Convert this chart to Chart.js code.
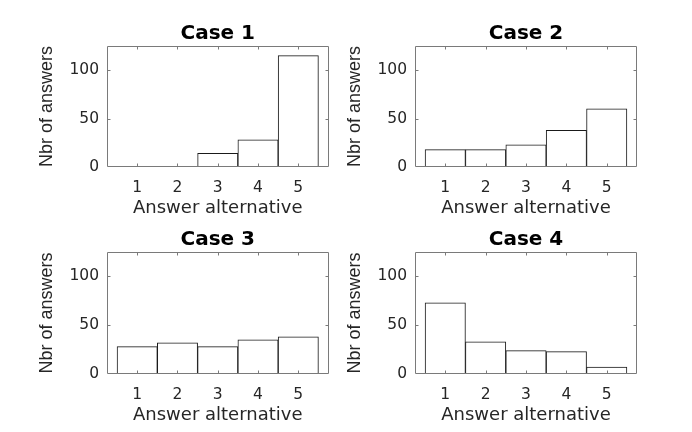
<!DOCTYPE html>
<html>
<head>
<meta charset="utf-8">
<script src="https://cdn.jsdelivr.net/npm/chart.js@4.4.1/dist/chart.umd.min.js"></script>
<style>
  body { margin: 0; background: #fff; }
  #wrap { position: relative; width: 692px; height: 432px; overflow: hidden; background: #fff; }
  canvas { position: absolute; }
</style>
</head>
<body>
<div id="wrap">
  <canvas id="case1" width="346" height="217" style="left:0px;top:0px"></canvas>
  <canvas id="case2" width="384" height="217" style="left:308px;top:0px"></canvas>
  <canvas id="case3" width="346" height="218" style="left:0px;top:206px"></canvas>
  <canvas id="case4" width="384" height="218" style="left:308px;top:206px"></canvas>
</div>
<script>
// answer alternatives on the x axis
var answerAlternatives = [1, 2, 3, 4, 5];
var yTicks = [0, 50, 100];
var yMax = 125;

var case1Answers = [0, 0, 14, 28, 115];
var case2Answers = [18, 18, 23, 38, 60];
var case3Answers = [28, 32, 28, 35, 38];
var case4Answers = [73, 33, 24, 23, 7];

var textColor = "#262626";
var boxColor = "#7a7a7a";

// box all around the axes, with ticks pointing inwards (matlab look)
var boxPlugin = {
  id: "boxPlugin",
  afterDatasetsDraw: function(chart) {
    var ctx = chart.ctx;
    var a = chart.chartArea;
    var x = chart.scales.x, y = chart.scales.y;
    var l = Math.round(a.left) + 0.5, r = Math.round(a.right) - 0.5;
    var t = Math.round(a.top) + 0.5, b = Math.round(a.bottom) - 0.5;
    ctx.save();
    ctx.strokeStyle = boxColor;
    ctx.lineWidth = 1;
    ctx.beginPath();
    ctx.rect(l, t, r - l, b - t);
    x.ticks.forEach(function(tk) {
      var px = Math.round(x.getPixelForValue(tk.value)) + 0.5;
      ctx.moveTo(px, b); ctx.lineTo(px, b - 3);
      ctx.moveTo(px, t); ctx.lineTo(px, t + 3);
    });
    y.ticks.forEach(function(tk) {
      var py = Math.round(y.getPixelForValue(tk.value)) + 0.5;
      if (py <= t + 1 || py >= b - 1) return;
      ctx.moveTo(l, py); ctx.lineTo(l + 3, py);
      ctx.moveTo(r, py); ctx.lineTo(r - 3, py);
    });
    ctx.stroke();
    ctx.restore();
  }
};

function histCase(idElement, titulo, datos, padRight) {
  var ctx = document.getElementById(idElement);
  var puntos = answerAlternatives.map(function(v, i) { return { x: v, y: datos[i] }; });

  new Chart(ctx, {
    type: "bar",
    data: {
      datasets: [{
        data: puntos,
        backgroundColor: "#ffffff",
        borderColor: "#1a1a1a",
        borderWidth: 1,
        borderSkipped: false,
        barPercentage: 1,
        categoryPercentage: 1
      }]
    },
    options: {
      responsive: false,
      animation: false,
      events: [],
      layout: { padding: { top: 0, left: 0, right: padRight, bottom: 0 } },
      plugins: {
        legend: { display: false },
        tooltip: { enabled: false },
        title: {
          display: true,
          text: titulo,
          fullSize: false,
          color: "#000",
          font: { family: "DejaVu Sans", size: 20, weight: "bold", lineHeight: 1.2 },
          padding: { top: 21.5, bottom: 0.5 }
        }
      },
      scales: {
        x: {
          type: "linear",
          min: 0.25,
          max: 5.75,
          offset: false,
          grid: { display: false, drawTicks: false, offset: false },
          border: { display: false },
          afterBuildTicks: function(scale) {
            scale.ticks = answerAlternatives.map(function(v) { return { value: v }; });
          },
          afterFit: function(scale) { scale.height = 50; },
          ticks: {
            color: textColor,
            padding: 12,
            maxRotation: 0,
            font: { family: "DejaVu Sans", size: 15.5, lineHeight: 1.2 }
          },
          title: {
            display: true,
            text: "Answer alternative",
            color: textColor,
            font: { family: "DejaVu Sans", size: 18, lineHeight: 1 },
            padding: { top: 0, bottom: 0 }
          }
        },
        y: {
          min: 0,
          max: yMax,
          grid: { display: false, drawTicks: false },
          border: { display: false },
          afterBuildTicks: function(scale) {
            scale.ticks = yTicks.map(function(v) { return { value: v }; });
          },
          afterFit: function(scale) { scale.width = 107; },
          ticks: {
            color: textColor,
            padding: 8,
            font: { family: "DejaVu Sans", size: 15.5, lineHeight: 1.2 }
          },
          title: {
            display: true,
            text: "Nbr of answers",
            color: textColor,
            font: { family: "Liberation Sans", size: 18, lineHeight: 1 },
            padding: { top: 38, bottom: 0 }
          }
        }
      }
    },
    plugins: [boxPlugin]
  });
}

histCase("case1", "Case 1", case1Answers, 17.5);
histCase("case2", "Case 2", case2Answers, 55);
histCase("case3", "Case 3", case3Answers, 17.5);
histCase("case4", "Case 4", case4Answers, 55);
</script>
</body>
</html>
